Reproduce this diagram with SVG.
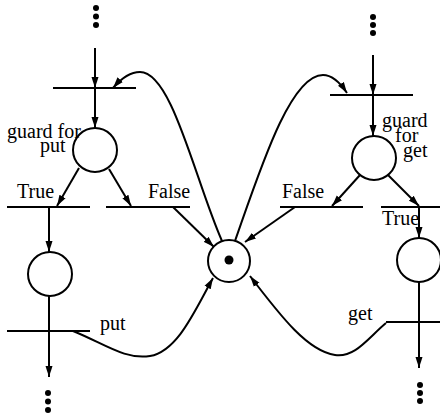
<svg xmlns="http://www.w3.org/2000/svg" width="440" height="413" viewBox="0 0 440 413">
<style>
.bar{stroke:#000;stroke-width:2;fill:none}
.place{stroke:#000;stroke-width:2;fill:#fff}
.arc{stroke:#000;stroke-width:2;fill:none;marker-end:url(#ah)}
.ln{stroke:#000;stroke-width:2;fill:none}
.dot{fill:#000}
text{font-family:"Liberation Serif","Times New Roman",serif;font-size:20px;fill:#000}
</style>
<defs>
<marker id="ah" markerUnits="userSpaceOnUse" markerWidth="12" markerHeight="8" refX="11" refY="4" orient="auto">
<path d="M0,0.5 L11,4 L0,7.5 z" fill="#000"/>
</marker>
</defs>
<rect width="440" height="413" fill="#fff"/>
<g id="connectors">
<line class="arc" x1="95" y1="48" x2="95" y2="88"/>
<line class="arc" x1="95" y1="88" x2="95" y2="128"/>
<line class="arc" x1="79" y1="168" x2="57" y2="206"/>
<line class="arc" x1="109" y1="169" x2="131" y2="206"/>
<line class="arc" x1="49" y1="207" x2="49" y2="252"/>
<line class="ln" x1="49" y1="296" x2="49" y2="331"/>
<line class="arc" x1="49" y1="331" x2="49" y2="377"/>
<line class="arc" x1="173" y1="207" x2="214" y2="247"/>
<line class="arc" x1="373" y1="55" x2="373" y2="95"/>
<line class="arc" x1="373" y1="95" x2="373" y2="136"/>
<line class="arc" x1="360" y1="175" x2="332" y2="206"/>
<line class="arc" x1="388" y1="175" x2="419" y2="206"/>
<line class="arc" x1="295" y1="207" x2="245" y2="242"/>
<line class="arc" x1="419" y1="207" x2="419" y2="238"/>
<line class="ln" x1="419" y1="282" x2="419" y2="322"/>
<line class="arc" x1="419" y1="322" x2="419" y2="368"/>
<path class="arc" d="M222,241 C195,180 172,72 140,72 C128,72 119,81 113,88"/>
<path class="arc" d="M235,241 C260,170 290,75 323,75 C333,75 341,84 347,93"/>
<path class="arc" d="M73,331 C105,344 125,360 150,356 C178,351 195,310 213,278"/>
<path class="arc" d="M386,323 C368,338 355,358 335,355 C308,351 282,318 250,276"/>
</g>
<g id="dots-top-left"><circle class="dot" cx="96" cy="8" r="3"/><circle class="dot" cx="96" cy="16.5" r="3"/><circle class="dot" cx="96" cy="25" r="3"/></g>
<g id="dots-top-right"><circle class="dot" cx="373" cy="17" r="3"/><circle class="dot" cx="373" cy="25" r="3"/><circle class="dot" cx="373" cy="33" r="3"/></g>
<g id="dots-bottom-left"><circle class="dot" cx="48" cy="393" r="3"/><circle class="dot" cx="48" cy="401.5" r="3"/><circle class="dot" cx="48" cy="410" r="3"/></g>
<g id="dots-bottom-right"><circle class="dot" cx="420" cy="385" r="3"/><circle class="dot" cx="420" cy="393" r="3"/><circle class="dot" cx="420" cy="401" r="3"/></g>
<g id="t-put-enter"><line class="bar" x1="53" y1="88" x2="136" y2="88"/></g>
<g id="p-guard-put"><circle class="place" cx="95" cy="150" r="22"/><text x="7" y="138">guard for</text><text x="40" y="152">put</text></g>
<g id="t-put-true"><line class="bar" x1="7" y1="207" x2="90" y2="207"/><text x="17" y="198">True</text></g>
<g id="t-put-false"><line class="bar" x1="106" y1="207" x2="190" y2="207"/><text x="148" y="198">False</text></g>
<g id="p-put-wait"><circle class="place" cx="50" cy="274" r="22"/></g>
<g id="t-put"><line class="bar" x1="7" y1="331" x2="90" y2="331"/><text x="100" y="330">put</text></g>
<g id="p-mutex"><circle class="place" cx="229" cy="261" r="21"/><circle class="dot" cx="229" cy="260" r="4.5"/></g>
<g id="t-get-enter"><line class="bar" x1="330" y1="95" x2="413" y2="95"/></g>
<g id="p-guard-get"><circle class="place" cx="374" cy="158" r="22"/><text x="382" y="127">guard</text><text x="395" y="142">for</text><text x="403" y="157">get</text></g>
<g id="t-get-false"><line class="bar" x1="280" y1="207" x2="363" y2="207"/><text x="282" y="198">False</text></g>
<g id="t-get-true"><line class="bar" x1="381" y1="207" x2="440" y2="207"/><text x="382" y="225">True</text></g>
<g id="p-get-wait"><circle class="place" cx="419" cy="260" r="22"/></g>
<g id="t-get"><line class="bar" x1="386" y1="322" x2="440" y2="322"/><text x="348" y="320">get</text></g>
</svg>
